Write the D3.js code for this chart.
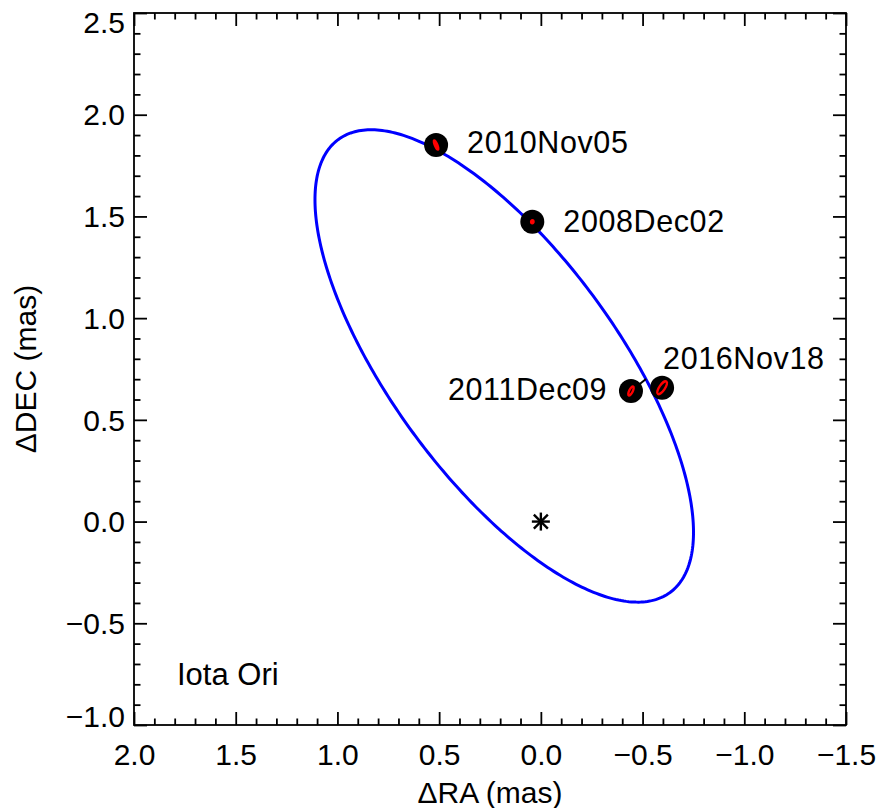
<!DOCTYPE html>
<html>
<head>
<meta charset="utf-8">
<script src="https://cdn.jsdelivr.net/npm/d3@7"></script>
<style>
  body { margin: 0; background: #fff; }
  svg { display: block; font-family: "Liberation Sans", Arial, Helvetica, sans-serif; }
</style>
</head>
<body>
<svg id="chart" width="878" height="808"></svg>
<script>
// Interferometric relative positions of the Iota Ori companion (mas)
const epochs   = ["2010Nov05", "2008Dec02", "2011Dec09", "2016Nov18"];
const obsRA    = [0.515, 0.042, -0.443, -0.596];
const obsDEC   = [1.851, 1.474, 0.642, 0.658];
// orbit-predicted positions at the same epochs
const modelRA  = [0.515, 0.035, -0.517, -0.543];
const modelDEC = [1.831, 1.460, 0.701, 0.658];
// error ellipses: semi-major, semi-minor (mas) and position angle (deg, N through E)
const errMajor = [0.0246, 0.0074, 0.0246, 0.037];
const errMinor = [0.0060, 0.0060, 0.0088, 0.0138];
const errPA    = [23, 0, -26, -35];
// label anchor offsets in pixels from each point
const labelDx  = [31, 31, -183, 1];
const labelDy  = [8, 10, 9, -19];

// apparent orbit: centre, semi-axes (mas), major-axis position angle (deg)
const orbitCenter = [0.180, 0.765];
const orbitAxes   = [1.380, 0.556];
const orbitPA     = 36.2;

const xTicks = [2.0, 1.5, 1.0, 0.5, 0.0, -0.5, -1.0, -1.5];
const yTicks = [-1.0, -0.5, 0.0, 0.5, 1.0, 1.5, 2.0, 2.5];

const L = 134, R = 846, T = 13, B = 725;
const svg = d3.select("#chart");
const x = d3.scaleLinear().domain([2.0, -1.5]).range([L, R]);
const y = d3.scaleLinear().domain([2.5, -1.0]).range([T, B]);
const pxPerMas = Math.abs(x(1) - x(0));
const fmt = d3.format(".1f");

const minorX = d3.range(-15, 21).map(d => d / 10).filter(v => !xTicks.some(t => Math.abs(t - v) < 1e-9));
const minorY = d3.range(-10, 26).map(d => d / 10).filter(v => !yTicks.some(t => Math.abs(t - v) < 1e-9));

function styleAxis(g) {
  g.select(".domain").remove();
  g.selectAll(".tick line").attr("stroke", "#000").attr("stroke-width", 1.8);
  g.selectAll(".tick text").attr("fill", "#000").attr("font-size", 30)
    .attr("font-family", "'Liberation Sans', Arial, Helvetica, sans-serif");
}

// bottom axis with labels
svg.append("g").attr("transform", `translate(0,${B})`)
  .call(d3.axisBottom(x).tickValues(xTicks).tickSize(-13).tickPadding(19).tickFormat(fmt))
  .call(styleAxis);
svg.append("g").attr("transform", `translate(0,${B})`)
  .call(d3.axisBottom(x).tickValues(minorX).tickSize(-6.5).tickFormat(""))
  .call(styleAxis);
// top axis
svg.append("g").attr("transform", `translate(0,${T})`)
  .call(d3.axisTop(x).tickValues(xTicks).tickSize(-13).tickFormat(""))
  .call(styleAxis);
svg.append("g").attr("transform", `translate(0,${T})`)
  .call(d3.axisTop(x).tickValues(minorX).tickSize(-6.5).tickFormat(""))
  .call(styleAxis);
// left axis with labels; the end labels are pulled inside the frame height
const yMax = d3.max(yTicks), yMin = d3.min(yTicks);
svg.append("g").attr("transform", `translate(${L},0)`)
  .call(d3.axisLeft(y).tickValues(yTicks).tickSize(-13).tickPadding(9).tickFormat(fmt))
  .call(styleAxis)
  .call(g => g.selectAll(".tick text")
    .attr("dy", "0.34em")
    .attr("y", d => d === yMax ? 9 : d === yMin ? -9 : 0));
svg.append("g").attr("transform", `translate(${L},0)`)
  .call(d3.axisLeft(y).tickValues(minorY).tickSize(-6.5).tickFormat(""))
  .call(styleAxis);
// right axis
svg.append("g").attr("transform", `translate(${R},0)`)
  .call(d3.axisRight(y).tickValues(yTicks).tickSize(-13).tickFormat(""))
  .call(styleAxis);
svg.append("g").attr("transform", `translate(${R},0)`)
  .call(d3.axisRight(y).tickValues(minorY).tickSize(-6.5).tickFormat(""))
  .call(styleAxis);

// frame
svg.append("rect").attr("x", L).attr("y", T).attr("width", R - L).attr("height", B - T)
  .attr("fill", "none").attr("stroke", "#000").attr("stroke-width", 1.8);

// axis titles
svg.append("text").attr("x", (L + R) / 2).attr("y", 803).attr("text-anchor", "middle")
  .attr("font-size", 30).text("\u0394RA (mas)");
svg.append("text").attr("transform", `translate(36,${(T + B) / 2}) rotate(-90)`)
  .attr("text-anchor", "middle").attr("font-size", 30).text("\u0394DEC (mas)");

// apparent orbit
const pa = orbitPA * Math.PI / 180;
const ux = [Math.sin(pa), Math.cos(pa)];    // major-axis unit vector (RA east, DEC north)
const vx = [-Math.cos(pa), Math.sin(pa)];   // minor-axis unit vector
const orbitPts = d3.range(0, 360, 1).map(deg => {
  const t = deg * Math.PI / 180;
  const a = orbitAxes[0] * Math.cos(t), b = orbitAxes[1] * Math.sin(t);
  return [orbitCenter[0] + a * ux[0] + b * vx[0], orbitCenter[1] + a * ux[1] + b * vx[1]];
});
svg.append("path")
  .attr("d", d3.line().x(d => x(d[0])).y(d => y(d[1])).curve(d3.curveLinearClosed)(orbitPts))
  .attr("fill", "none").attr("stroke", "#0000ff").attr("stroke-width", 3);

// primary star at the origin
const sx = x(0), sy = y(0);
const star = svg.append("g").attr("transform", `translate(${sx},${sy})`)
  .attr("stroke", "#000").attr("stroke-width", 2.4);
[[-9, 0, 9, 0], [0, -9, 0, 9], [-7, -7, 7, 7], [-7, 7, 7, -7]].forEach(s =>
  star.append("line").attr("x1", s[0]).attr("y1", s[1]).attr("x2", s[2]).attr("y2", s[3]));

// O-C segments
const pts = epochs.map((e, i) => ({
  e, ra: obsRA[i], dec: obsDEC[i], mra: modelRA[i], mdec: modelDEC[i],
  maj: errMajor[i], min: errMinor[i], pa: errPA[i], dx: labelDx[i], dy: labelDy[i]
}));
svg.append("g").selectAll("line").data(pts).join("line")
  .attr("x1", d => x(d.ra)).attr("y1", d => y(d.dec))
  .attr("x2", d => x(d.mra)).attr("y2", d => y(d.mdec))
  .attr("stroke", "#000").attr("stroke-width", 2);

// measurement markers
svg.append("g").selectAll("circle").data(pts).join("circle")
  .attr("cx", d => x(d.ra)).attr("cy", d => y(d.dec)).attr("r", 12).attr("fill", "#000");

// error ellipses
svg.append("g").selectAll("ellipse").data(pts).join("ellipse")
  .attr("transform", d => {
    const p = d.pa * Math.PI / 180;
    const ang = Math.atan2(-Math.cos(p), -Math.sin(p)) * 180 / Math.PI;
    return `translate(${x(d.ra)},${y(d.dec)}) rotate(${ang})`;
  })
  .attr("rx", d => d.maj * pxPerMas).attr("ry", d => d.min * pxPerMas)
  .attr("fill", "none").attr("stroke", "#ff0000").attr("stroke-width", 2.4);

// epoch labels
svg.append("g").selectAll("text").data(pts).join("text")
  .attr("x", d => x(d.ra) + d.dx).attr("y", d => y(d.dec) + d.dy)
  .attr("font-size", 30.5).attr("letter-spacing", 0.6).text(d => d.e);

// object name
svg.append("text").attr("x", 177).attr("y", 685).attr("font-size", 31).text("Iota Ori");
</script>
</body>
</html>
